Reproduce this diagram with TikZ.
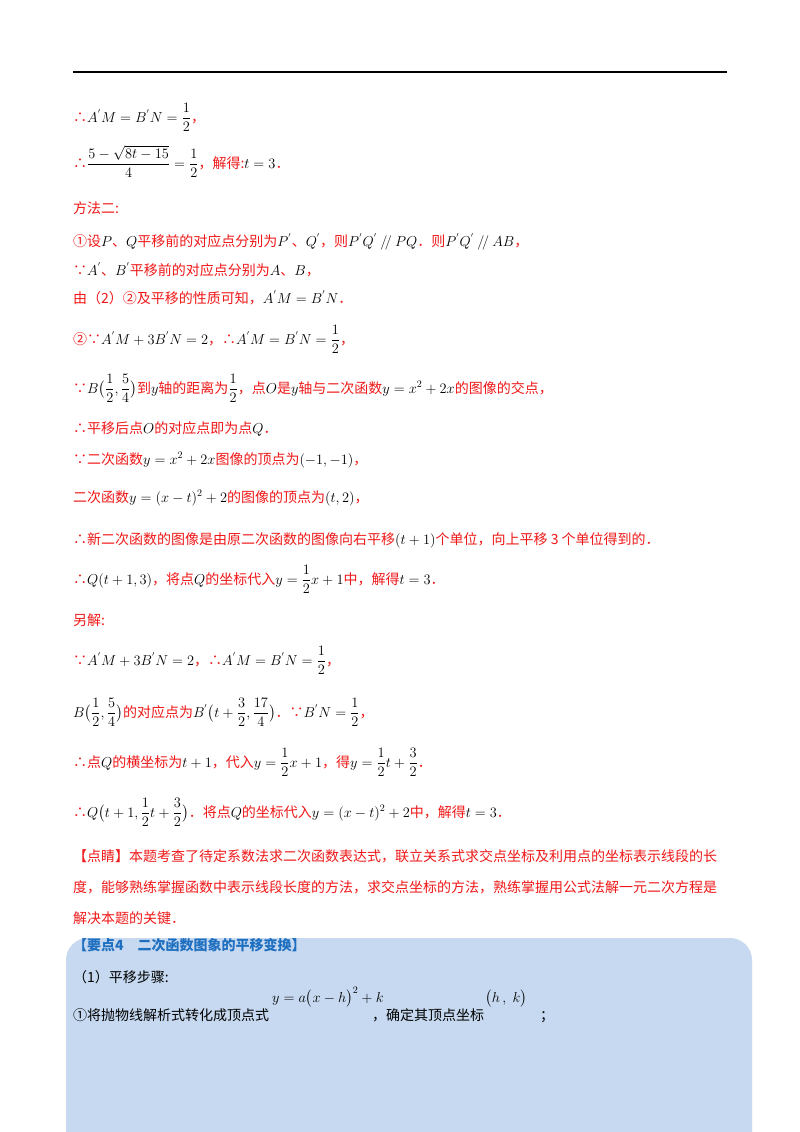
\documentclass[tikz,border=0pt]{standalone}
\usepackage{fontspec}
\usepackage{amsmath}
\newfontfamily\cjk{Noto Sans CJK SC}
\definecolor{myred}{HTML}{F01818}
\definecolor{boxblue}{HTML}{C6D9F0}
\definecolor{headblue}{HTML}{1F6FC0}
\newcommand{\zh}[1]{{\color{myred}\cjk #1}}
\newcommand{\zk}[1]{{\cjk #1}}
\begin{document}
\begin{tikzpicture}[x=1pt,y=-1pt,
  line/.style={anchor=base west,inner sep=0pt,font=\fontsize{14}{16}\selectfont}]
\useasboundingbox[fill=white] (0,0) rectangle (800,1132);
\draw[line width=1.8pt] (73,72) -- (727,72);
\node[line] (l1) at (73,122) {\zh{∴}$A^{'}M=B^{'}N=\dfrac{1}{2}$\zh{，}};
\node[line] (l2) at (73,168) {\zh{∴}$\dfrac{5-\sqrt{8t-15}}{4}=\dfrac12$\zh{，解得:}$t=3$\zh{．}};
\node[line] (l3) at (73,213) {\zh{方法二:}};
\node[line] (l4) at (73,246) {\zh{①设}$P$\zh{、}$Q$\zh{平移前的对应点分别为}$P^{'}$\zh{、}$Q^{'}$\zh{，则}$P^{'}Q^{'}\mathbin{/\!/}PQ$\zh{．则}$P^{'}Q^{'}\mathbin{/\!/}AB$\zh{，}};
\node[line] (l5) at (73,275) {\zh{∵}$A^{'}$\zh{、}$B^{'}$\zh{平移前的对应点分别为}$A$\zh{、}$B$\zh{，}};
\node[line] (l6) at (73,303) {\zh{由（2）②及平移的性质可知，}$A^{'}M=B^{'}N$\zh{．}};
\node[line] (l7) at (73,344) {\zh{②∵}$A^{'}M+3B^{'}N=2$\zh{，∴}$A^{'}M=B^{'}N=\dfrac12$\zh{，}};
\node[line] (l8) at (73,393) {\zh{∵}$B\big(\dfrac12,\dfrac54\big)$\zh{到}$y$\zh{轴的距离为}$\dfrac12$\zh{，点}$O$\zh{是}$y$\zh{轴与二次函数}$y=x^2+2x$\zh{的图像的交点，}};
\node[line] (l9) at (73,433) {\zh{∴平移后点}$O$\zh{的对应点即为点}$Q$\zh{．}};
\node[line] (l10) at (73,464) {\zh{∵二次函数}$y=x^2+2x$\zh{图像的顶点为}$(-1,-1)$\zh{，}};
\node[line] (l11) at (73,502) {\zh{二次函数}$y=(x-t)^2+2$\zh{的图像的顶点为}$(t,2)$\zh{，}};
\node[line] (l12) at (73,544) {\zh{∴新二次函数的图像是由原二次函数的图像向右平移}$(t+1)$\zh{个单位，向上平移 3 个单位得到的．}};
\node[line] (l13) at (73,584) {\zh{∴}$Q(t+1,3)$\zh{，将点}$Q$\zh{的坐标代入}$y=\dfrac12x+1$\zh{中，解得}$t=3$\zh{．}};
\node[line] (l14) at (73,625) {\zh{另解:}};
\node[line] (l15) at (73,665) {\zh{∵}$A^{'}M+3B^{'}N=2$\zh{，∴}$A^{'}M=B^{'}N=\dfrac12$\zh{，}};
\node[line] (l16) at (73,717) {$B\big(\dfrac12,\dfrac54\big)$\zh{的对应点为}$B^{'}\big(t+\dfrac32,\dfrac{17}{4}\big)$\zh{．∵}$B^{'}N=\dfrac12$\zh{，}};
\node[line] (l17) at (73,767) {\zh{∴点}$Q$\zh{的横坐标为}$t+1$\zh{，代入}$y=\dfrac12x+1$\zh{，得}$y=\dfrac12t+\dfrac32$\zh{．}};
\node[line] (l18) at (73,817) {\zh{∴}$Q\big(t+1,\dfrac12t+\dfrac32\big)$\zh{．将点}$Q$\zh{的坐标代入}$y=(x-t)^2+2$\zh{中，解得}$t=3$\zh{．}};
\node[line] (l19) at (73,861) {\zh{【点睛】本题考查了待定系数法求二次函数表达式，联立关系式求交点坐标及利用点的坐标表示线段的长}};
\node[line] (l20) at (73,892) {\zh{度，能够熟练掌握函数中表示线段长度的方法，求交点坐标的方法，熟练掌握用公式法解一元二次方程是}};
\node[line] (l21) at (73,923) {\zh{解决本题的关键．}};
\fill[boxblue,rounded corners=22pt] (66,938) rectangle (752,1160);
\node[line] (h1) at (73,950) {\color{headblue}\cjk\bfseries 【要点4\quad 二次函数图象的平移变换】};
\node[line] (h2) at (73,982) {\zk{（1）平移步骤:}};
\node[line] (h3) at (73,1020) {\zk{①将抛物线解析式转化成顶点式}};
\node[line] (f1) at (272,1002) {$y=a\big(x-h\big)^2+k$};
\node[line] (h4) at (372,1020) {\zk{，确定其顶点坐标}};
\node[line] (f2) at (485,1002) {$\big(h\,,\;k\big)$};
\node[line] (h5) at (540,1020) {\zk{；}};
\end{tikzpicture}
\end{document}
